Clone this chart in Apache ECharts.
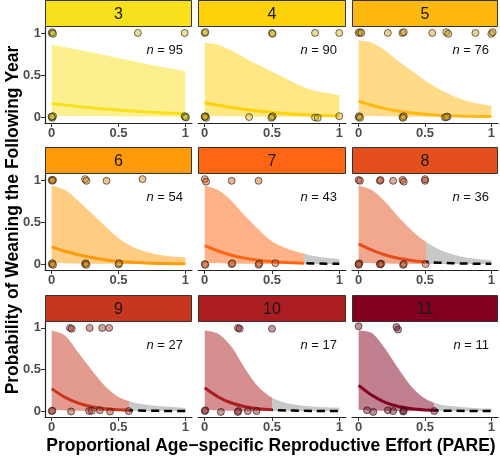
<!DOCTYPE html>
<html><head><meta charset="utf-8">
<script src="https://cdn.jsdelivr.net/npm/echarts@6/dist/echarts.min.js"></script>
<style>html,body{margin:0;padding:0;background:#fff}#c{width:500px;height:456px}</style>
</head><body><div id="c"></div>
<script>
// ---------------- data ----------------
const ages = ['3','4','5','6','7','8','9','10','11'];
const sampleSizes = [95, 90, 76, 54, 43, 36, 27, 17, 11];
const pareGrid = [0, 0.1, 0.2, 0.3, 0.4, 0.5, 0.6, 0.7, 0.8, 0.9, 1];
const meanCurves = [
  [0.16,0.142,0.125,0.11,0.096,0.083,0.072,0.062,0.053,0.045,0.037],
  [0.17,0.14,0.113,0.09,0.071,0.055,0.042,0.032,0.024,0.018,0.013],
  [0.19,0.14,0.1,0.07,0.048,0.033,0.022,0.015,0.01,0.007,0.005],
  [0.205,0.152,0.11,0.078,0.052,0.032,0.02,0.012,0.007,0.004,0.003],
  [0.22,0.155,0.105,0.07,0.045,0.029,0.018,0.011,0.007,0.004,0.003],
  [0.24,0.165,0.108,0.068,0.042,0.026,0.016,0.01,0.006,0.004,0.002],
  [0.27,0.165,0.095,0.052,0.028,0.015,0.008,0.005,0.003,0.002,0.001],
  [0.28,0.17,0.097,0.053,0.028,0.015,0.008,0.004,0.002,0.001,0.001],
  [0.31,0.19,0.105,0.055,0.028,0.014,0.007,0.004,0.002,0.001,0.001]
];
const upperCurves = [
  [0.86,0.83,0.8,0.77,0.735,0.7,0.67,0.635,0.605,0.575,0.545],
  [0.88,0.86,0.79,0.7,0.62,0.54,0.46,0.38,0.32,0.29,0.26],
  [0.91,0.885,0.79,0.665,0.55,0.435,0.34,0.26,0.2,0.16,0.133],
  [0.93,0.88,0.75,0.6,0.45,0.31,0.21,0.15,0.11,0.09,0.08],
  [0.93,0.88,0.75,0.57,0.41,0.27,0.19,0.14,0.1,0.075,0.06],
  [0.93,0.88,0.74,0.56,0.4,0.27,0.18,0.12,0.08,0.06,0.045],
  [0.97,0.91,0.7,0.49,0.3,0.17,0.11,0.08,0.06,0.05,0.04],
  [0.97,0.93,0.77,0.51,0.29,0.16,0.1,0.07,0.055,0.045,0.04],
  [0.97,0.94,0.75,0.51,0.29,0.15,0.085,0.06,0.045,0.035,0.03]
];
const lowerCurves = [
  [0.015,0.013,0.011,0.01,0.008,0.007,0.006,0.005,0.004,0.003,0.002],
  [0.015,0.012,0.009,0.007,0.005,0.004,0.003,0.002,0.001,0.001,0],
  [0.015,0.011,0.008,0.005,0.003,0.002,0.001,0.001,0,0,0],
  [0.015,0.01,0.006,0.003,0.002,0.001,0,0,0,0,0],
  [0.015,0.01,0.005,0.002,0.001,0,0,0,0,0,0],
  [0.015,0.01,0.005,0.002,0.001,0,0,0,0,0,0],
  [0.015,0.008,0.004,0.002,0.001,0,0,0,0,0,0],
  [0.015,0.008,0.004,0.002,0.001,0,0,0,0,0,0],
  [0.015,0.008,0.004,0.002,0.001,0,0,0,0,0,0]
];
// PARE beyond which predictions are extrapolated (null = whole range observed)
const maxObservedPare = [null, null, null, null, 0.74, 0.505, 0.576, 0.5, 0.57];
// observed points [PARE, weaned (jittered around 1 / 0)]
const weanedPoints = [
  [[0,1],[0.005,1.01],[0.01,0.99],[0.645,1],[0.995,1]],
  [[0,1],[0.005,1.01],[0.5,1],[0.505,0.99],[0.82,1],[1,1]],
  [[0,1],[0.01,1.01],[0.02,1],[0.22,1],[0.33,1],[0.34,1.01],[0.555,1],[0.66,1.01],[0.675,0.99],[0.88,1],[1,0.99],[1.01,1.01]],
  [[0,1],[0.01,1],[0.005,0.99],[0.25,1.01],[0.26,0.99],[0.41,0.99],[0.68,1.01]],
  [[0,1.01],[0.01,0.98],[0.2,0.99],[0.4,0.99]],
  [[0,1],[0.01,0.99],[0.16,0.99],[0.165,1],[0.26,0.99],[0.33,1],[0.34,0.98],[0.5,0.99],[0.5,1.01]],
  [[0.137,1],[0.15,0.99],[0.284,1],[0.378,1],[0.43,1]],
  [[0.247,1],[0.26,0.99],[0.5,0.99]],
  [[0,1.02],[0.285,1.01],[0.297,0.98]]
];
const notWeanedPoints = [
  [[0,0],[0.005,-0.01],[0.01,0.01],[0,0.005],[1,0],[0.995,0.01],[1.005,-0.005]],
  [[0,0],[0.005,0.01],[0.01,-0.01],[0,0.005],[0.33,0],[0.5,0],[0.505,0.01],[0.495,-0.01],[0.82,-0.005],[0.84,-0.01],[1,0.01]],
  [[0,0],[0.005,0.01],[0.01,-0.01],[0.33,0],[0.34,0.01],[0.335,-0.01],[0.65,-0.005],[0.67,0.005],[0.66,0]],
  [[0,0],[0.005,0.01],[0.01,-0.01],[0.25,0],[0.255,0.01],[0.26,-0.01],[0.5,-0.005],[0.505,0.01]],
  [[0,0],[0.005,-0.01],[0.2,0],[0.205,0.01],[0.4,-0.01],[0.405,0.005],[0.525,0.01]],
  [[0,0],[0.005,0.01],[0,-0.01],[0.16,0],[0.17,0.005],[0.165,-0.005],[0.335,-0.01],[0.34,0],[0.505,0]],
  [[0,0],[0.005,0.005],[0.145,-0.005],[0.28,0],[0.3,0.005],[0.36,0.01],[0.437,-0.005],[0.576,0]],
  [[0,0],[0.005,0.01],[0.12,-0.01],[0.25,0],[0.245,-0.01],[0.32,0],[0.385,0]],
  [[0.063,0.01],[0.11,-0.01],[0.22,0.01],[0.26,0],[0.335,-0.005],[0.34,0.005],[0.57,0]]
];
const xTicks = [0, 0.5, 1];
const yTicks = [0, 0.5, 1];

// ---------------- style / layout ----------------
const ageColors = ['#F8E11C','#FFD10A','#FFB80F','#FF9A08','#FF6512','#E3501E','#C8361F','#AC1D22','#82001F'];
const FONT = 'Liberation Sans, Arial, sans-serif';
const colLeft = [45, 198, 352], colWidth = [147, 148, 146];
const rowTop = [27, 174, 322], rowHeight = [96, 96, 95];
const stripH = 26;

function rgba(hex, a, k) {
  const n = parseInt(hex.slice(1), 16);
  const f = v => Math.round(v * k);
  return 'rgba(' + f((n >> 16) & 255) + ',' + f((n >> 8) & 255) + ',' + f(n & 255) + ',' + a + ')';
}

const grids = [], xAxes = [], yAxes = [], series = [], visualMaps = [], graphics = [];
for (let i = 0; i < 9; i++) {
  const r = Math.floor(i / 3), c = i % 3;
  const col = ageColors[i];
  grids.push({left: colLeft[c], top: rowTop[r], width: colWidth[c], height: rowHeight[r], containLabel: false, outerBoundsMode: 'none'});
  xAxes.push({
    gridIndex: i, type: 'value', min: -0.05, max: 1.05,
    axisLine: {show: true, onZero: false, lineStyle: {color: '#222', width: 1.2}},
    axisTick: {show: true, customValues: xTicks, length: 4, lineStyle: {color: '#333'}},
    axisLabel: {customValues: xTicks, color: '#4d4d4d', fontWeight: 'bold', fontSize: 13, fontFamily: FONT, margin: 4},
    splitLine: {show: false}
  });
  yAxes.push({
    gridIndex: i, type: 'value', min: -0.071, max: 1.071,
    axisLine: {show: c === 0, onZero: false, lineStyle: {color: '#222', width: 1.2}},
    axisTick: {show: c === 0, customValues: yTicks, length: 4, lineStyle: {color: '#333'}},
    axisLabel: {show: c === 0, customValues: yTicks, color: '#4d4d4d', fontWeight: 'bold', fontSize: 13, fontFamily: FONT, margin: 4},
    splitLine: {show: false}
  });
  const cut = maxObservedPare[i];
  const upperData = pareGrid.map((x, k) => [x, upperCurves[i][k]]);
  const lowerData = pareGrid.map((x, k) => [x, lowerCurves[i][k]]);
  const meanData = pareGrid.map((x, k) => [x, meanCurves[i][k]]);
  const common = {xAxisIndex: i, yAxisIndex: i, symbol: 'none', smooth: 0.3, silent: true, animation: false};
  const bandIdx = series.length;
  series.push(Object.assign({type: 'line', data: upperData, color: col, lineStyle: {width: 0, opacity: 0},
    areaStyle: {origin: 0, opacity: 0.5}, z: 1}, common));
  // mask below lower bound of the interval
  series.push(Object.assign({type: 'line', data: lowerData, lineStyle: {width: 0, opacity: 0},
    areaStyle: {origin: 0, color: '#fff', opacity: 1}, z: 2}, common));
  const meanIdx = series.length;
  series.push(Object.assign({type: 'line', data: meanData, color: col, lineStyle: {width: 3}, z: 3}, common));
  if (cut !== null) {
    const dashIdx = series.length;
    series.push(Object.assign({type: 'line', data: meanData, color: '#000', lineStyle: {width: 2.5, type: [8, 5]}, z: 4}, common));
    visualMaps.push({type: 'piecewise', show: false, seriesIndex: bandIdx, dimension: 0,
      pieces: [{gte: -1, lte: cut, color: col}, {gt: cut, lte: 2, color: '#929292'}]});
    visualMaps.push({type: 'piecewise', show: false, seriesIndex: meanIdx, dimension: 0,
      pieces: [{gte: -1, lte: cut, color: col}, {gt: cut, lte: 2, color: 'rgba(0,0,0,0)'}]});
    visualMaps.push({type: 'piecewise', show: false, seriesIndex: dashIdx, dimension: 0,
      pieces: [{gte: -1, lte: cut, color: 'rgba(0,0,0,0)'}, {gt: cut, lte: 2, color: '#000'}]});
  }
  series.push({
    type: 'scatter', xAxisIndex: i, yAxisIndex: i, silent: true, animation: false,
    data: weanedPoints[i].concat(notWeanedPoints[i]), symbolSize: 7, z: 5,
    itemStyle: {color: rgba(col, 0.55, 0.82), borderColor: 'rgba(20,20,20,0.75)', borderWidth: 1}
  });
  // facet strip
  const sTop = rowTop[r] - stripH - 0.5;
  graphics.push({type: 'rect', shape: {x: colLeft[c] + 0.5, y: sTop, width: colWidth[c] - 1, height: stripH},
    style: {fill: col, stroke: '#333', lineWidth: 1}, silent: true});
  graphics.push({type: 'text', x: colLeft[c] + colWidth[c] / 2, y: sTop + stripH / 2 + 1, silent: true,
    style: {text: ages[i], font: '16px ' + FONT, fill: '#1a1a1a', textAlign: 'center', textVerticalAlign: 'middle'}});
  // n label
  graphics.push({type: 'text', x: colLeft[c] + colWidth[c] - 9, y: rowTop[r] + 23, silent: true,
    style: {text: '{i|n} = ' + sampleSizes[i], font: '13px ' + FONT, fill: '#111', textAlign: 'right', textVerticalAlign: 'middle',
      rich: {i: {fontStyle: 'italic', fontSize: 13, fontFamily: FONT, fill: '#111'}}}});
}
graphics.push({type: 'text', x: 13, y: 220, rotation: Math.PI / 2, silent: true,
  style: {text: 'Probability of Weaning the Following Year', font: 'bold 17.5px ' + FONT, fill: '#000', textAlign: 'center', textVerticalAlign: 'middle'}});
graphics.push({type: 'text', x: 271, y: 446, silent: true,
  style: {text: 'Proportional Age\u2212specific Reproductive Effort (PARE)', font: 'bold 17.5px ' + FONT, fill: '#000', textAlign: 'center', textVerticalAlign: 'middle'}});

const chart = echarts.init(document.getElementById('c'), null, {renderer: 'canvas'});
chart.setOption({
  animation: false,
  backgroundColor: '#fff',
  grid: grids, xAxis: xAxes, yAxis: yAxes, series: series, visualMap: visualMaps,
  graphic: {elements: graphics}
});
</script></body></html>
